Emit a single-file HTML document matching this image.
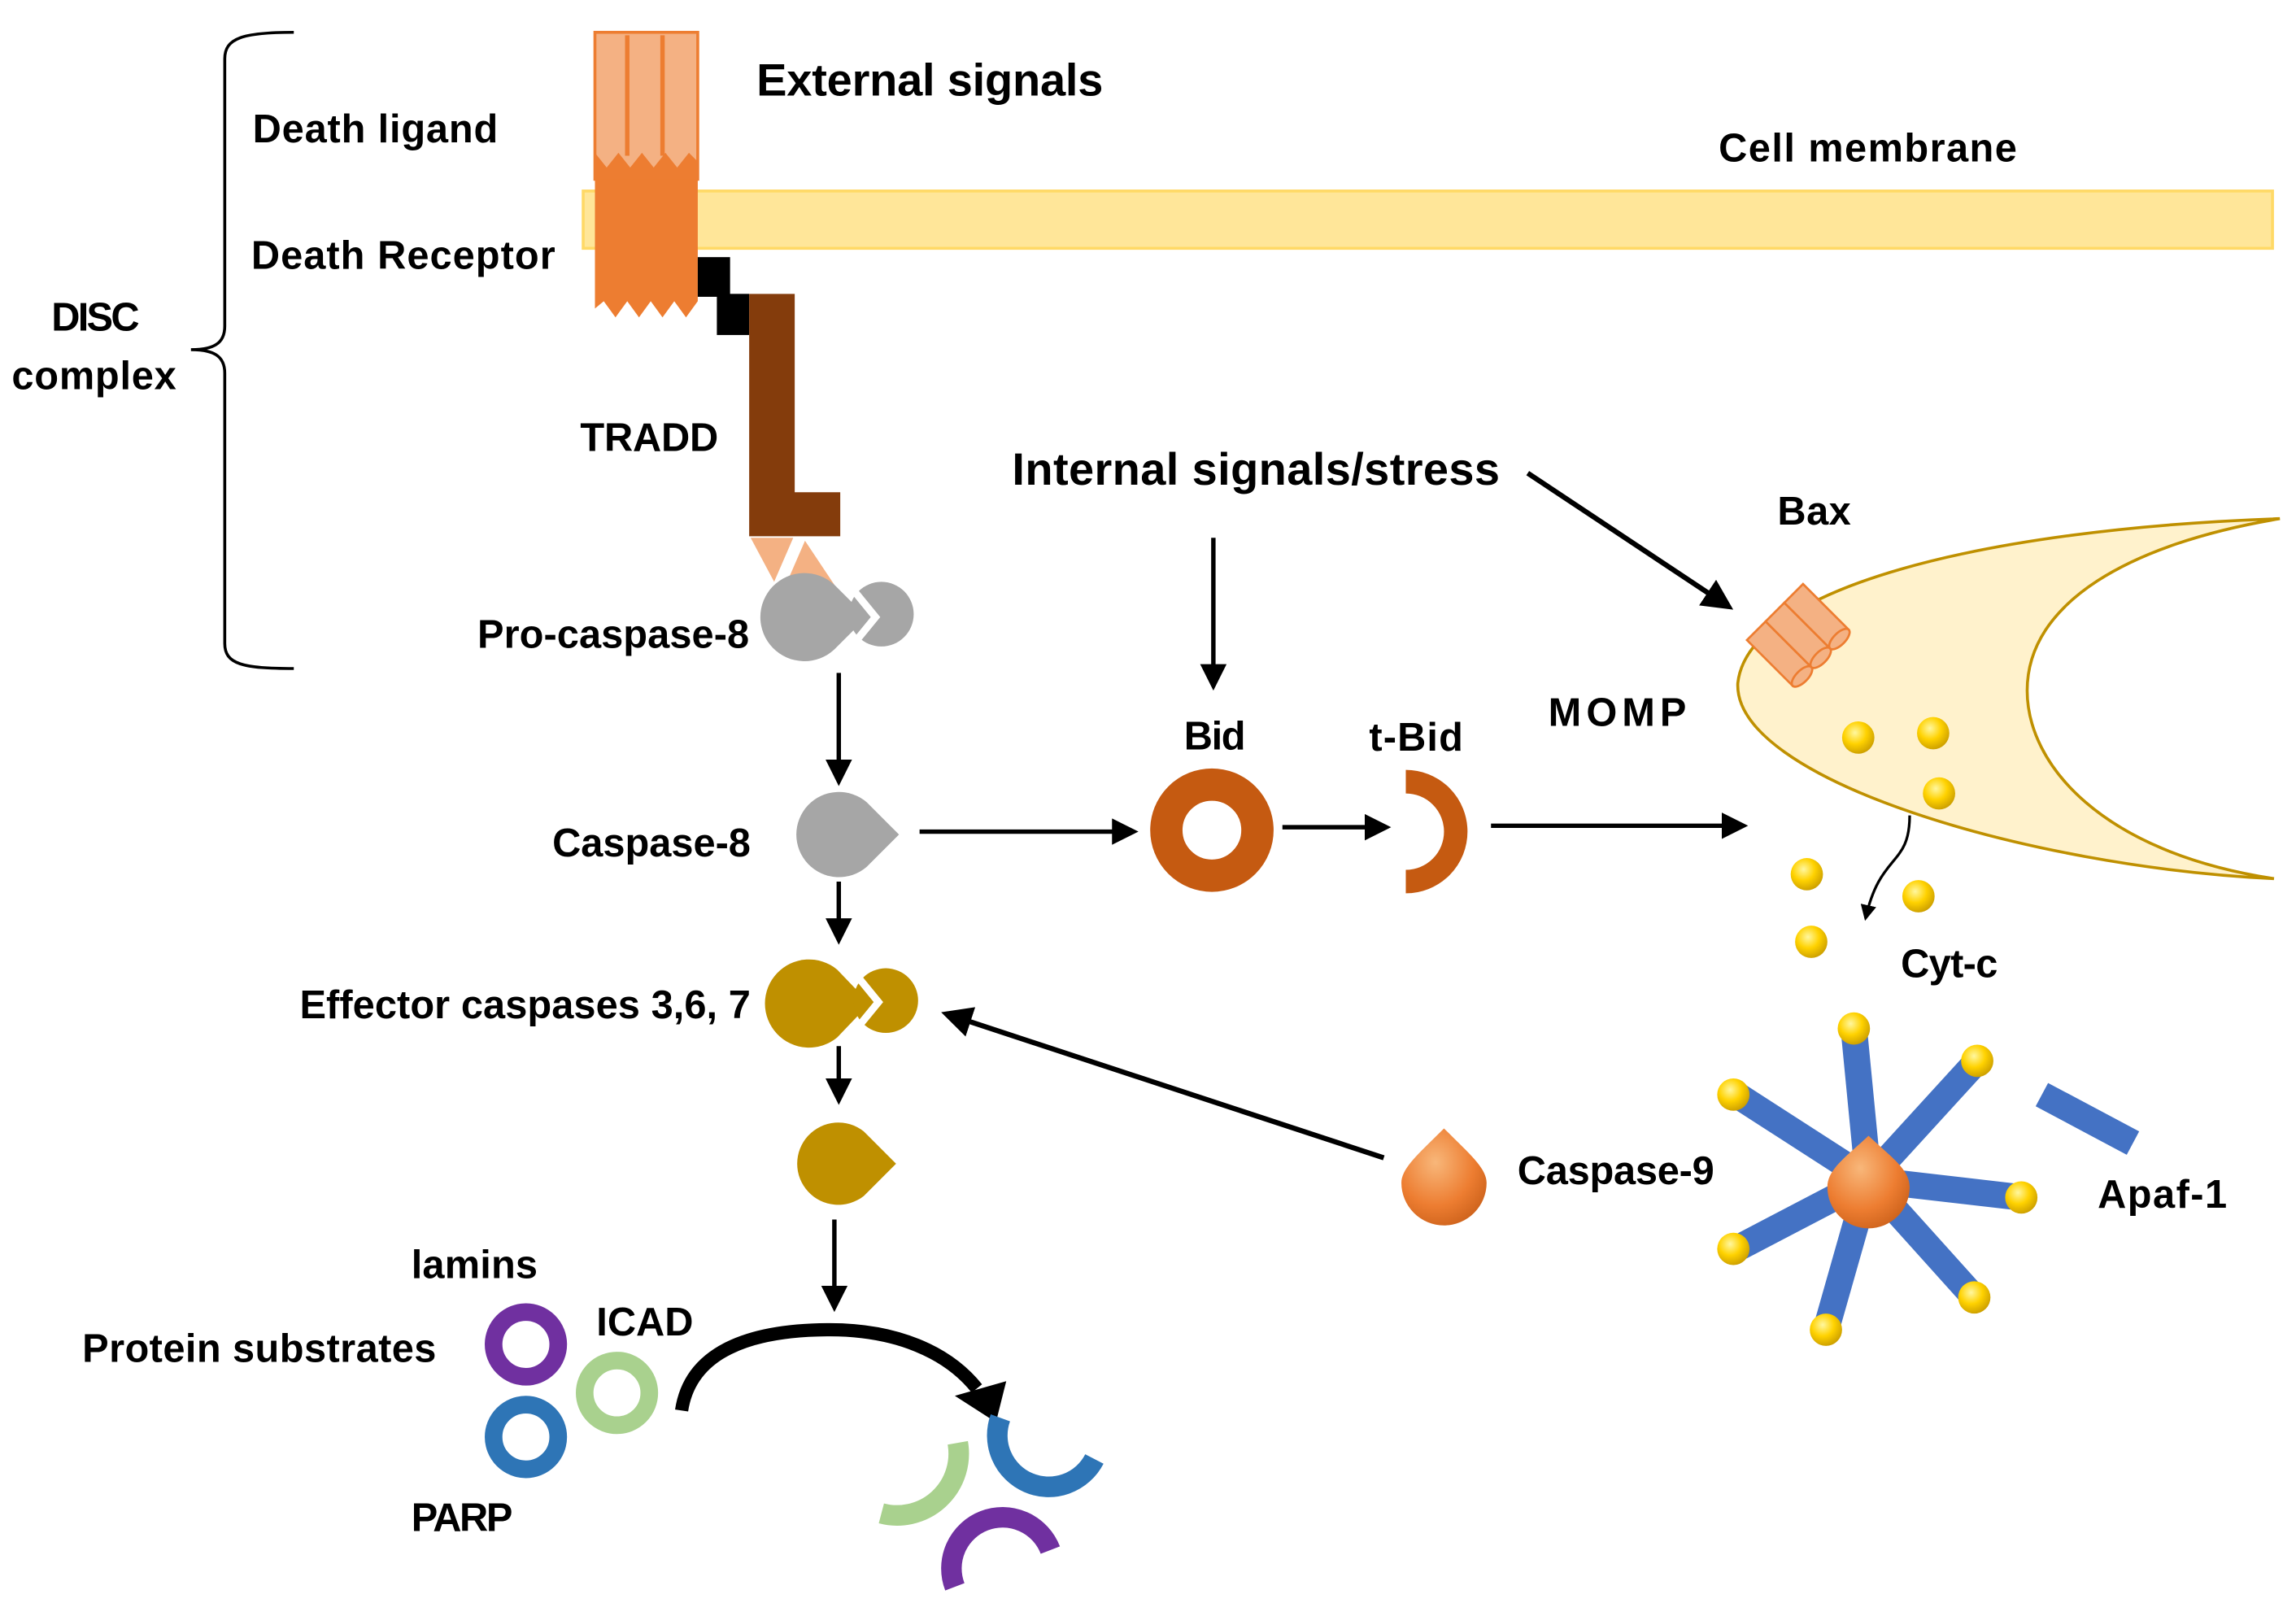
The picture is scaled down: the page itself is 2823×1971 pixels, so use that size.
<!DOCTYPE html>
<html><head><meta charset="utf-8"><style>html,body{margin:0;padding:0;background:#fff}svg{display:block}</style></head>
<body>
<svg width="2823" height="1971" viewBox="0 0 1563 1091" preserveAspectRatio="none" xmlns="http://www.w3.org/2000/svg" font-family="Liberation Sans, sans-serif" font-weight="bold">
<defs>
<marker id="ah" markerWidth="6" markerHeight="6" refX="5" refY="3" orient="auto" markerUnits="strokeWidth"><path d="M0,0 L6,3 L0,6 Z" fill="#000"/></marker>
<radialGradient id="yg" cx="0.4" cy="0.35" r="0.7"><stop offset="0" stop-color="#FFF7A0"/><stop offset="0.5" stop-color="#FFD200"/><stop offset="1" stop-color="#C89B00"/></radialGradient>
<radialGradient id="og" cx="0.4" cy="0.35" r="0.75"><stop offset="0" stop-color="#F8B77A"/><stop offset="0.6" stop-color="#ED7D31"/><stop offset="1" stop-color="#C85E18"/></radialGradient>
</defs>

<path d="M200,22 C165,22 153,26 153,40 L153,222 C153,234 145,238 130,238 C145,238 153,242 153,254 L153,438 C153,452 165,455 200,455" fill="none" stroke="#000" stroke-width="2"/>
<text x="35" y="225" font-size="27" textLength="60">DISC</text>
<text x="8" y="265" font-size="27" textLength="112">complex</text>
<text x="172" y="97" font-size="27" textLength="167">Death ligand</text>
<text x="171" y="183" font-size="27" textLength="207">Death Receptor</text>
<text x="515" y="65" font-size="31" textLength="236">External signals</text>
<text x="1170" y="110" font-size="27" textLength="203">Cell membrane</text>

<rect x="397" y="130" width="1150" height="39" fill="#FFE699" stroke="#FFD966" stroke-width="2"/>

<rect x="405" y="22" width="70" height="100" fill="#F4B183" stroke="#ED7D31" stroke-width="2"/>
<path d="M405,118 L475,118 L475,205 L467,216 L459,205 L451,216 L443,205 L435,216 L427,205 L419,216 L411,205 L405,210 Z" fill="#ED7D31"/>
<path d="M405,104 L413,114 L421,104 L429,114 L437,104 L445,114 L453,104 L461,114 L469,104 L475,110 L475,122 L405,122 Z" fill="#ED7D31"/>
<path d="M427,24 L427,106 M451,24 L451,106" stroke="#ED7D31" stroke-width="3"/>

<rect x="475" y="175" width="22" height="27" fill="#000"/>
<rect x="488" y="200" width="22" height="28" fill="#000"/>
<path d="M510,200 L541,200 L541,335 L572,335 L572,365 L510,365 Z" fill="#843C0C"/>
<text x="395" y="307" font-size="27" textLength="94">TRADD</text>
<polygon points="511,366 540,366 527,396" fill="#F4B183"/>
<polygon points="548,368 568,398 535,398" fill="#F4B183"/>

<path d="M590,420 L568,442 A30,30 0 1 1 568,398 Z" fill="#A6A6A6"/>
<circle cx="600" cy="418" r="22" fill="#A6A6A6"/>
<polyline points="578,398 596,420 578,442" fill="none" stroke="#fff" stroke-width="5"/>
<text x="325" y="441" font-size="27" textLength="185">Pro-caspase-8</text>
<line x1="571" y1="458" x2="571" y2="532" stroke="#000" stroke-width="3" marker-end="url(#ah)"/>

<path d="M612,568 L590,590 A29,29 0 1 1 590,546 Z" fill="#A6A6A6"/>
<text x="376" y="583" font-size="27" textLength="135">Caspase-8</text>
<line x1="626" y1="566" x2="772" y2="566" stroke="#000" stroke-width="3" marker-end="url(#ah)"/>

<circle cx="825" cy="565" r="31" fill="none" stroke="#C55A11" stroke-width="22"/>
<text x="806" y="510" font-size="27" textLength="42">Bid</text>
<line x1="873" y1="563" x2="944" y2="563" stroke="#000" stroke-width="3" marker-end="url(#ah)"/>
<path d="M957,532 A34,34 0 0 1 957,600" fill="none" stroke="#C55A11" stroke-width="16"/>
<text x="932" y="511" font-size="27" textLength="64">t-Bid</text>
<line x1="1015" y1="562" x2="1187" y2="562" stroke="#000" stroke-width="3" marker-end="url(#ah)"/>
<text x="1054" y="494" font-size="27" textLength="94">MOMP</text>

<text x="689" y="330" font-size="31" textLength="332">Internal signals/stress</text>
<line x1="826" y1="366" x2="826" y2="467" stroke="#000" stroke-width="3" marker-end="url(#ah)"/>
<line x1="1040" y1="322" x2="1177" y2="413" stroke="#000" stroke-width="3.5" marker-end="url(#ah)"/>
<text x="1210" y="357" font-size="27" textLength="50">Bax</text>

<path d="M1552,353 C1350,360 1190,400 1183,465 C1180,530 1380,590 1548,598 C1430,580 1380,520 1380,470 C1380,410 1450,370 1552,353 Z" fill="#FFF2CC" stroke="#BF9000" stroke-width="2"/>

<g transform="translate(1226,430) rotate(-45)" fill="#F4B183" stroke="#ED7D31" stroke-width="1.5">
<rect x="-30" y="-22" width="18" height="44"/>
<rect x="-12" y="-22" width="18" height="44"/>
<rect x="6" y="-22" width="18" height="44"/>
<ellipse cx="-21" cy="22" rx="9" ry="4"/>
<ellipse cx="-3" cy="22" rx="9" ry="4"/>
<ellipse cx="15" cy="22" rx="9" ry="4"/>
</g>

<g fill="url(#yg)">
<circle cx="1265" cy="502" r="11"/><circle cx="1316" cy="499" r="11"/><circle cx="1320" cy="540" r="11"/>
<circle cx="1230" cy="595" r="11"/><circle cx="1306" cy="610" r="11"/><circle cx="1233" cy="641" r="11"/>
</g>
<path d="M1300,555 C1300,590 1280,580 1270,625" fill="none" stroke="#000" stroke-width="1.8" marker-end="url(#ah)"/>
<text x="1294" y="665" font-size="27" textLength="66">Cyt-c</text>

<line x1="571" y1="600" x2="571" y2="640" stroke="#000" stroke-width="3" marker-end="url(#ah)"/>
<path d="M592,683 L570,706 A30,30 0 1 1 570,660 Z" fill="#BF9000"/>
<circle cx="603" cy="681" r="22" fill="#BF9000"/>
<polyline points="580,660 598,682 580,704" fill="none" stroke="#fff" stroke-width="5"/>
<text x="204" y="693" font-size="27" textLength="307">Effector caspases 3,6, 7</text>
<line x1="571" y1="712" x2="571" y2="749" stroke="#000" stroke-width="3" marker-end="url(#ah)"/>
<path d="M610,792 L588,814 A28,28 0 1 1 588,770 Z" fill="#BF9000"/>
<line x1="568" y1="830" x2="568" y2="890" stroke="#000" stroke-width="3" marker-end="url(#ah)"/>

<line x1="942" y1="788" x2="644" y2="690" stroke="#000" stroke-width="3.5" marker-end="url(#ah)"/>
<path d="M983,768 C1000,785 1012,795 1012,805 A29,29 0 1 1 954,805 C954,795 966,785 983,768 Z" fill="url(#og)"/>
<text x="1033" y="806" font-size="27" textLength="134">Caspase-9</text>

<g stroke="#4472C4" stroke-width="18">
<line x1="1272" y1="803" x2="1262" y2="700"/>
<line x1="1272" y1="803" x2="1346" y2="722"/>
<line x1="1272" y1="803" x2="1182" y2="745"/>
<line x1="1272" y1="803" x2="1376" y2="815"/>
<line x1="1272" y1="803" x2="1182" y2="850"/>
<line x1="1272" y1="803" x2="1344" y2="883"/>
<line x1="1272" y1="803" x2="1243" y2="905"/>
<line x1="1390" y1="745" x2="1452" y2="778"/>
</g>
<g fill="url(#yg)">
<circle cx="1262" cy="700" r="11"/><circle cx="1346" cy="722" r="11"/><circle cx="1180" cy="745" r="11"/>
<circle cx="1376" cy="815" r="11"/><circle cx="1180" cy="850" r="11"/><circle cx="1344" cy="883" r="11"/>
<circle cx="1243" cy="905" r="11"/>
</g>
<path d="M1272,773 C1288,788 1300,796 1300,808 A28,28 0 1 1 1244,808 C1244,796 1256,788 1272,773 Z" fill="url(#og)"/>
<text x="1428" y="822" font-size="27" textLength="88">Apaf-1</text>

<text x="280" y="870" font-size="27" textLength="86">lamins</text>
<text x="56" y="927" font-size="27" textLength="241">Protein substrates</text>
<text x="406" y="909" font-size="27" textLength="66">ICAD</text>
<text x="280" y="1042" font-size="27" textLength="69">PARP</text>
<circle cx="358" cy="915" r="22" fill="none" stroke="#7030A0" stroke-width="12"/>
<circle cx="420" cy="948" r="22" fill="none" stroke="#A9D18E" stroke-width="12"/>
<circle cx="358" cy="978" r="22" fill="none" stroke="#2E75B6" stroke-width="12"/>

<path d="M464,960 C470,920 510,905 565,905 C610,905 645,920 665,945" fill="none" stroke="#000" stroke-width="9"/>
<polygon points="650,950 685,940 678,968" fill="#000"/>

<path d="M681,965 A35,35 0 0 0 745,993" fill="none" stroke="#2E75B6" stroke-width="14"/>
<path d="M652,982 A42,42 0 0 1 600,1030" fill="none" stroke="#A9D18E" stroke-width="14"/>
<path d="M650,1080 A32,32 0 0 1 715,1055" fill="none" stroke="#7030A0" stroke-width="14"/>
</svg>
</body></html>
